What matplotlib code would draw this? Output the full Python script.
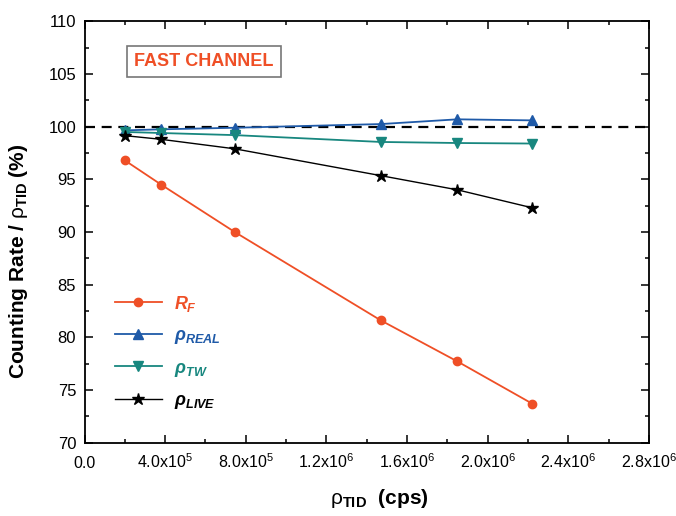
import numpy as np
import matplotlib
matplotlib.use("Agg")
import matplotlib.pyplot as plt
from matplotlib.ticker import MultipleLocator, FixedLocator

plt.rcParams['font.family'] = ['Liberation Sans', 'DejaVu Sans']
plt.rcParams['mathtext.fontset'] = 'custom'
plt.rcParams['mathtext.rm'] = 'Liberation Sans'
plt.rcParams['mathtext.it'] = 'Liberation Sans:italic:bold'
plt.rcParams['mathtext.bf'] = 'Liberation Sans:bold'

# data
rho_tid = [2.0e5, 3.8e5, 7.45e5, 1.47e6, 1.85e6, 2.22e6]
r_f = [96.8, 94.5, 90.0, 81.6, 77.7, 73.7]
rho_real = [99.65, 99.75, 99.9, 100.25, 100.7, 100.6]
rho_tw = [99.5, 99.4, 99.2, 98.55, 98.45, 98.4]
rho_live = [99.15, 98.8, 97.9, 95.35, 94.0, 92.3]

xticks = [0, 4e5, 8e5, 1.2e6, 1.6e6, 2.0e6, 2.4e6, 2.8e6]
xticklabels = ['0.0', '4.0x10$^5$', '8.0x10$^5$', '1.2x10$^6$', '1.6x10$^6$',
               '2.0x10$^6$', '2.4x10$^6$', '2.8x10$^6$']

c_rf = '#ef4f26'
c_real = '#1f5aa8'
c_tw = '#18877f'
c_live = 'black'

fig = plt.figure(figsize=(6.76, 5.16), dpi=100)
ax = fig.add_axes([0.125, 0.1424, 0.835, 0.8161])

ax.axhline(100, color='black', lw=1.6, ls=(0, (4.5, 3)), zorder=1)

ax.plot(rho_tid, r_f, color=c_rf, marker='o', ms=6, lw=1.3, label=r'$R_F$')
ax.plot(rho_tid, rho_real, color=c_real, marker='^', ms=7, lw=1.3, label=r'$\rho_{REAL}$')
ax.plot(rho_tid, rho_tw, color=c_tw, marker='v', ms=7, lw=1.3, label=r'$\rho_{TW}$')
ax.plot(rho_tid, rho_live, color=c_live, marker='*', ms=9, lw=1.0, label=r'$\rho_{LIVE}$')

ax.set_xlim(0, 2.8e6)
ax.set_ylim(70, 110)
ax.xaxis.set_major_locator(FixedLocator(xticks))
ax.set_xticklabels(xticklabels, fontsize=11.5, va='baseline')
ax.xaxis.set_minor_locator(MultipleLocator(2e5))
ax.yaxis.set_major_locator(MultipleLocator(5))
ax.yaxis.set_minor_locator(MultipleLocator(2.5))
ax.tick_params(axis='y', labelsize=12, pad=6)
ax.tick_params(which='both', direction='in', top=True, right=True, width=1.1)
ax.tick_params(which='major', length=6)
ax.tick_params(which='minor', length=3)
ax.tick_params(axis='x', pad=18)
for s in ax.spines.values():
    s.set_linewidth(1.3)

ax.set_ylabel(r'Counting Rate / $\mathrm{\rho}_{\mathbf{TID}}$ (%)', fontsize=15,
              fontweight='bold')
ax.yaxis.set_label_coords(-0.097, 0.43)
ax.set_xlabel(r'$\mathrm{\rho}_{\mathbf{TID}}$  (cps)', fontsize=15,
              fontweight='bold')
ax.xaxis.set_label_coords(0.523, -0.105)

ax.text(0.211, 0.905, 'FAST CHANNEL', transform=ax.transAxes, fontsize=13,
        fontweight='bold', color=c_rf, ha='center', va='center',
        bbox=dict(boxstyle='square,pad=0.4', fc='white', ec='#777777', lw=1.2))

leg = ax.legend(loc='upper left', bbox_to_anchor=(0.025, 0.392), frameon=False,
                fontsize=13, handlelength=2.6, labelspacing=0.75,
                handletextpad=0.65, labelcolor='linecolor')

fig.savefig('out.png', dpi=100)
